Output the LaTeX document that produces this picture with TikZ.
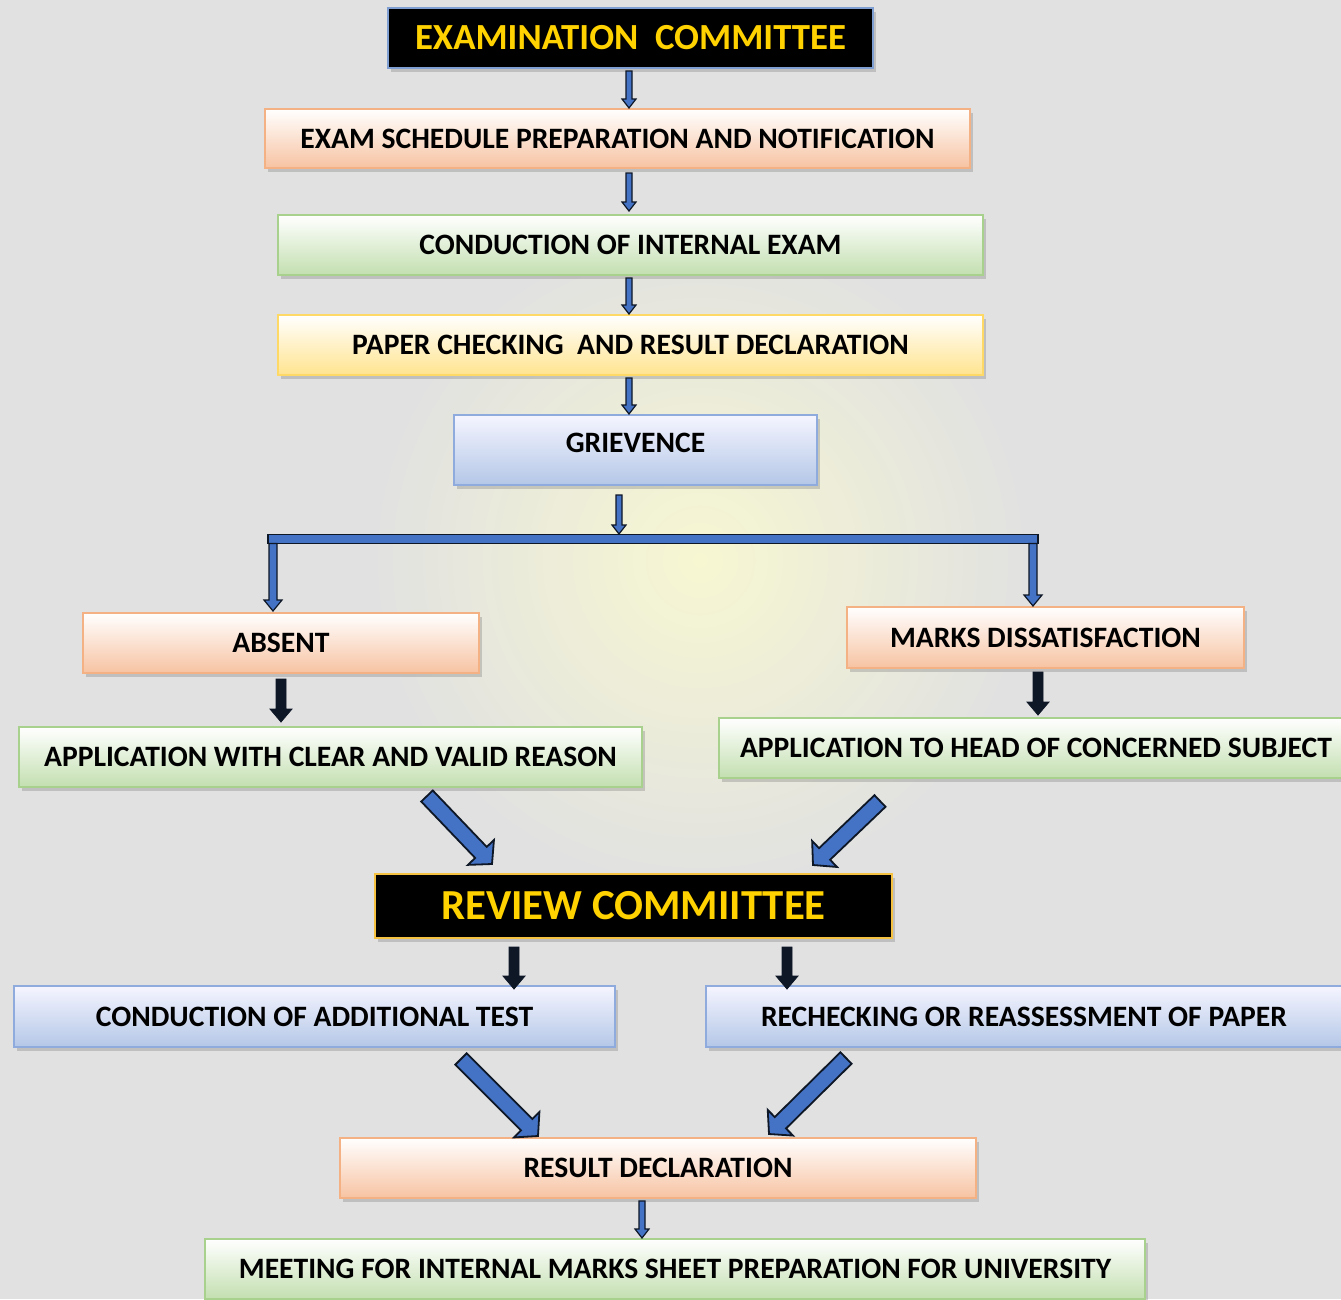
\documentclass[tikz,border=0pt]{standalone}
\usepackage{fontspec}
\setmainfont{Carlito}
\usetikzlibrary{calc,shadows}

\definecolor{bgc}{HTML}{E1E1E1}
\definecolor{glow}{HTML}{F7F7D2}
\definecolor{arblue}{HTML}{4472C4}
\definecolor{ardark}{HTML}{0E1726}
\definecolor{orbd}{HTML}{F4B183}
\definecolor{orfl}{HTML}{F7C3A2}
\definecolor{grbd}{HTML}{A9D18E}
\definecolor{grfl}{HTML}{C3DFB0}
\definecolor{yebd}{HTML}{FFD966}
\definecolor{yefl}{HTML}{FFE48F}
\definecolor{blbd}{HTML}{8FAADC}
\definecolor{blfl}{HTML}{B4C7E7}
\definecolor{goldtxt}{HTML}{FFD200}
\definecolor{goldbd}{HTML}{F5C242}
\definecolor{steel}{HTML}{7F9FD2}

\newcommand\blkarrow[6]{%
  \coordinate (bh) at ($(#3)!#6!(#2)$);
  \filldraw[#1] ($(#2)!#4!90:(#3)$) -- ($(bh)!#4!90:(#3)$) -- ($(bh)!#5!90:(#3)$) -- (#3)
    -- ($(bh)!#5!-90:(#3)$) -- ($(bh)!#4!-90:(#3)$) -- ($(#2)!#4!-90:(#3)$) -- cycle;
}

\tikzset{
  box/.style={draw, line width=1.6pt, inner sep=0pt, text=black,
    font=\fontsize{29.6}{32}\selectfont\bfseries,
    drop shadow={shadow xshift=3pt, shadow yshift=-4pt, opacity=0.35}},
  orbox/.style={box, draw=orbd, top color=white, bottom color=orfl},
  grbox/.style={box, draw=grbd, top color=white, bottom color=grfl},
  yebox/.style={box, draw=yebd, top color=white, bottom color=yefl},
  blbox/.style={box, draw=blbd, top color=blue!4!white, bottom color=blfl},
  titlebox/.style={draw, line width=2pt, fill=black, inner sep=0pt, text=goldtxt,
    drop shadow={shadow xshift=3pt, shadow yshift=-4pt, opacity=0.35}},
  thinar/.style={fill=arblue, draw=ardark, line width=1.2pt, line join=miter},
  blkar/.style={fill=ardark, draw=ardark, line width=0.8pt, line join=miter},
  diagar/.style={fill=arblue, draw=ardark, line width=1.8pt, line join=miter},
}

\begin{document}
\begin{tikzpicture}[x=1pt,y=-1pt]
\useasboundingbox (0,0) rectangle (1341,1299);
\fill[bgc] (0,0) rectangle (1341,1299);
\shade[inner color=glow, outer color=bgc] (700,560) circle (330pt);
\clip (0,0) rectangle (1341,1299);

% boxes
\node[titlebox, draw=steel, minimum width=485pt, minimum height=60pt,
      font=\fontsize{36.8}{40}\selectfont\bfseries] (exam) at (630.5,38) {EXAMINATION\ \ COMMITTEE};
\node[orbox, minimum width=705pt, minimum height=59pt] (sched) at (617.5,138.5) {EXAM SCHEDULE PREPARATION AND NOTIFICATION};
\node[grbox, minimum width=705pt, minimum height=60pt] (cond) at (630.5,245) {CONDUCTION OF INTERNAL EXAM};
\node[yebox, minimum width=705pt, minimum height=60pt] (paper) at (630.5,345) {PAPER CHECKING\ \ AND RESULT DECLARATION};
\node[blbox, minimum width=363pt, minimum height=70pt, text depth=14pt] (griev) at (635.5,450) {GRIEVENCE};
\node[orbox, minimum width=396pt, minimum height=60pt] (absent) at (281,643) {ABSENT};
\node[orbox, minimum width=397pt, minimum height=61pt] (marks) at (1045.5,637.5) {MARKS DISSATISFACTION};
\node[grbox, minimum width=623pt, minimum height=60pt] (appl1) at (330.5,757) {APPLICATION WITH CLEAR AND VALID REASON};
\node[grbox, minimum width=634pt, minimum height=60pt] (appl2) at (1036,748) {APPLICATION TO HEAD OF CONCERNED SUBJECT};
\node[titlebox, draw=goldbd, minimum width=517pt, minimum height=64pt,
      font=\fontsize{42.8}{46}\selectfont\bfseries] (review) at (633.5,906) {REVIEW COMMIITTEE};
\node[blbox, minimum width=601pt, minimum height=61pt] (addl) at (314.5,1016.5) {CONDUCTION OF ADDITIONAL TEST};
\node[blbox, minimum width=636pt, minimum height=61pt] (rechk) at (1024,1016.5) {RECHECKING OR REASSESSMENT OF PAPER};
\node[orbox, minimum width=636pt, minimum height=60pt] (result) at (658,1168) {RESULT DECLARATION};
\node[grbox, minimum width=940pt, minimum height=60pt] (meet) at (675,1269) {MEETING FOR INTERNAL MARKS SHEET PREPARATION FOR UNIVERSITY};

% thin blue arrows
\coordinate (t1a) at (629,71);   \coordinate (t1b) at (629,108);
\coordinate (t2a) at (629,173);  \coordinate (t2b) at (629,211);
\coordinate (t3a) at (629,278);  \coordinate (t3b) at (629,314);
\coordinate (t4a) at (629,378);  \coordinate (t4b) at (629,414);
\coordinate (t5a) at (619,495);  \coordinate (t5b) at (619,534);
\coordinate (t6a) at (642,1201); \coordinate (t6b) at (642,1238);
\blkarrow{thinar}{t1a}{t1b}{3pt}{7pt}{9pt}
\blkarrow{thinar}{t2a}{t2b}{3pt}{7pt}{9pt}
\blkarrow{thinar}{t3a}{t3b}{3pt}{7pt}{9pt}
\blkarrow{thinar}{t4a}{t4b}{3pt}{7pt}{9pt}
\blkarrow{thinar}{t5a}{t5b}{3pt}{7pt}{9pt}
\blkarrow{thinar}{t6a}{t6b}{3pt}{7pt}{9pt}

% branching bar
\node[fill=arblue, draw=ardark, line width=1.2pt, inner sep=0pt,
      minimum width=770pt, minimum height=9pt] (bar) at (653,539) {};
\coordinate (dla) at (273,543.5); \coordinate (dlb) at (273,611);
\coordinate (dra) at (1033,543.5); \coordinate (drb) at (1033,606);
\blkarrow{thinar}{dla}{dlb}{4pt}{9pt}{11pt}
\blkarrow{thinar}{dra}{drb}{4pt}{9pt}{11pt}

% dark block arrows
\coordinate (k1a) at (281,679);  \coordinate (k1b) at (281,722);
\coordinate (k2a) at (1038,672); \coordinate (k2b) at (1038,715);
\coordinate (k3a) at (514,947);  \coordinate (k3b) at (514,989);
\coordinate (k4a) at (787,947);  \coordinate (k4b) at (787,989);
\blkarrow{blkar}{k1a}{k1b}{5pt}{11pt}{13pt}
\blkarrow{blkar}{k2a}{k2b}{5pt}{11pt}{13pt}
\blkarrow{blkar}{k3a}{k3b}{5pt}{11pt}{13pt}
\blkarrow{blkar}{k4a}{k4b}{5pt}{11pt}{13pt}

% diagonal arrows
\coordinate (d1a) at (427,796);  \coordinate (d1b) at (492,864);
\coordinate (d2a) at (880,801);  \coordinate (d2b) at (813,865);
\coordinate (d3a) at (461,1059); \coordinate (d3b) at (538,1136);
\coordinate (d4a) at (846,1058); \coordinate (d4b) at (769,1134);
\blkarrow{diagar}{d1a}{d1b}{8pt}{18pt}{16pt}
\blkarrow{diagar}{d2a}{d2b}{8pt}{18pt}{16pt}
\blkarrow{diagar}{d3a}{d3b}{8pt}{18pt}{16pt}
\blkarrow{diagar}{d4a}{d4b}{8pt}{18pt}{16pt}
\end{tikzpicture}
\end{document}
